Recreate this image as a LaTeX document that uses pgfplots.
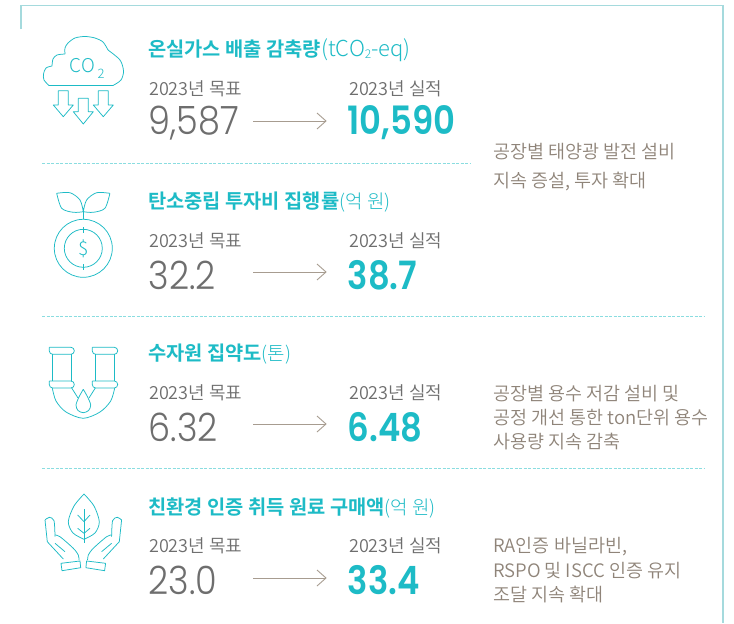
\documentclass[border=0pt]{standalone}
\usepackage{fontspec}
\setmainfont{Noto Sans CJK KR}
\newfontfamily\krlight{Noto Sans CJK KR Light}
\newfontfamily\krdemi{Noto Sans CJK KR DemiLight}
\newfontfamily\krbold{Noto Sans CJK KR Bold}
\newfontfamily\numfont{Poppins Light}
\newfontfamily\numbold{Poppins SemiBold}
\usepackage{pgfplots}
\pgfplotsset{compat=1.18}
\definecolor{tealc}{HTML}{1DBBC6}
\definecolor{framec}{HTML}{A5DADD}
\definecolor{dashc}{HTML}{8ADDE0}
\definecolor{taupe}{HTML}{8F8479}
\definecolor{numgray}{HTML}{6E6E6E}
\definecolor{arrowc}{HTML}{A79C90}
\pgfplotsset{
  icon/.style={tealc,line width=0.75pt,line join=round},
  sep/.style={dashc,line width=1pt,dash pattern=on 3pt off 1.5pt},
  arr/.style={arrowc,line width=0.9pt},
}
\newcommand{\row}[5]{% y, title bold, title light, target, actual
  \node[anchor=west,inner sep=0pt,text=tealc,font=\fontsize{19.8}{21}\krbold] at (axis cs:148,#1+1.5) {#2{\fontsize{19}{21}\krlight #3}};
  \node[anchor=west,inner sep=0pt,text=numgray,font=\fontsize{18}{20}\krdemi] at (axis cs:149,#1+40) {2023년 목표};
  \node[anchor=west,inner sep=0pt,text=numgray,font=\fontsize{18}{20}\krdemi] at (axis cs:349,#1+40) {2023년 실적};
  \node[anchor=west,inner sep=0pt,xscale=0.9,text=numgray,font=\fontsize{39}{41}\numfont] at (axis cs:148.5,#1+74) {#4};
  \node[anchor=west,inner sep=0pt,xscale=0.87,text=tealc,font=\fontsize{39}{41}\numbold] at (axis cs:347.5,#1+74) {#5};
}
\newcommand{\note}[2]{\node[anchor=west,inner sep=0pt,text=taupe,font=\fontsize{18.5}{20}\krdemi] at (axis cs:493,#1+1.5) {#2};}
\begin{document}
\begin{tikzpicture}
\begin{axis}[
    scale only axis, width=734pt, height=623pt,
    xmin=0, xmax=734, ymin=0, ymax=623, y dir=reverse,
    axis lines=none, clip=false,
    every axis plot/.append style={mark=none},
]
% page background, keeps the picture at its full size
\addplot[fill=white,draw=none] coordinates {(0,0) (734,0) (734,623) (0,623)} \closedcycle;
% frame
\addplot[framec,line width=1.2pt] coordinates {(21,29) (21,5.5) (723,5.5) (723,623)};
% separators
\addplot[sep] coordinates {(42,163) (471,163)};
\addplot[sep] coordinates {(42,316) (705,316)};
\addplot[sep] coordinates {(42,468) (705,468)};
% arrows
\addplot[arr] coordinates {(253,121) (326,121)};
\addplot[arr] coordinates {(317,113) (326,121) (317,129)};
\addplot[arr] coordinates {(253,272) (326,272)};
\addplot[arr] coordinates {(317,264) (326,272) (317,280)};
\addplot[arr] coordinates {(253,424) (326,424)};
\addplot[arr] coordinates {(317,416) (326,424) (317,432)};
\addplot[arr] coordinates {(253,578) (326,578)};
\addplot[arr] coordinates {(317,570) (326,578) (317,586)};
% cloud icon
\addplot[icon] coordinates {(49,85.5) (113,85.5)};
\addplot[icon,smooth] coordinates {(113,85.5) (121,80) (123.5,71) (120,60) (108,50)};
\addplot[icon,smooth] coordinates {(108,50) (103,42) (95,38) (85,36.5) (75,38) (68,43) (65,48) (65,54)};
\addplot[icon,smooth] coordinates {(65,54) (57,55) (53,59) (52,66)};
\addplot[icon,smooth] coordinates {(52,66) (46,68) (43.5,74) (44,80) (49,85.5)};
\node[text=tealc,font=\fontsize{19}{19}\krlight] at (axis cs:82.5,66) {CO};
\node[text=tealc,font=\fontsize{13}{13}\krlight] at (axis cs:101,73.5) {2};
\addplot[icon] coordinates {(58.3,90.7) (68.3,90.7) (68.3,105) (73.3,105) (63.3,116.7) (53.3,105) (58.3,105) (58.3,90.7)};
\addplot[icon] coordinates {(78.3,98.3) (88.3,98.3) (88.3,111.7) (93.3,111.7) (83.3,124) (73.3,111.7) (78.3,111.7) (78.3,98.3)};
\addplot[icon] coordinates {(98.3,90.7) (108.3,90.7) (108.3,105) (113.3,105) (103.3,116.7) (93.3,105) (98.3,105) (98.3,90.7)};
% seedling and coin icon
\addplot[icon,only marks,mark=o,mark size=29pt] coordinates {(83.3,248.3)};
\addplot[icon,only marks,mark=o,mark size=19pt] coordinates {(83.3,248.3)};
\addplot[icon] coordinates {(83.3,208.3) (83.3,219.3)};
\addplot[icon,smooth] coordinates {(56.7,193.3) (70,192.7) (80,200) (83.3,211.7)};
\addplot[icon,smooth] coordinates {(56.7,193.3) (61.7,208.3) (73.3,212.3) (83.3,211.7)};
\addplot[icon,smooth] coordinates {(109.9,193.3) (96.6,192.7) (86.6,200) (83.3,211.7)};
\addplot[icon,smooth] coordinates {(109.9,193.3) (104.9,208.3) (93.3,212.3) (83.3,211.7)};
\addplot[icon] coordinates {(83.3,227) (83.3,233)};
\addplot[icon] coordinates {(83.3,264) (83.3,270)};
\node[text=tealc,font=\fontsize{19}{19}\krlight] at (axis cs:83.3,248.3) {\$};
% pipe icon
\addplot[icon,rounded corners=3.4pt] coordinates {(49.3,347.3) (74.3,347.3) (74.3,354.3) (49.3,354.3) (49.3,347.3)};
\addplot[icon,rounded corners=3.4pt] coordinates {(49.3,381) (74.3,381) (74.3,388) (49.3,388) (49.3,381)};
\addplot[icon,rounded corners=3.4pt] coordinates {(92.3,347.3) (117.7,347.3) (117.7,354.3) (92.3,354.3) (92.3,347.3)};
\addplot[icon,rounded corners=3.4pt] coordinates {(92.3,381) (117.7,381) (117.7,388) (92.3,388) (92.3,381)};
\addplot[icon] coordinates {(52.3,354.3) (52.3,381)};
\addplot[icon] coordinates {(71.7,354.3) (71.7,381)};
\addplot[icon] coordinates {(95.3,354.3) (95.3,381)};
\addplot[icon] coordinates {(114.7,354.3) (114.7,381)};
\addplot[icon,smooth] coordinates {(52.3,388) (56,401) (66,412) (83.3,418.3) (100,412) (110.7,401) (114.7,388)};
\addplot[icon] coordinates {(71.7,388) (78,398)};
\addplot[icon] coordinates {(95.3,388) (89,398)};
\addplot[icon,smooth] coordinates {(83.3,389.3) (79,397) (76,405) (78,410.5) (83.3,412.7) (88.6,410.5) (90.7,405) (87.6,397) (83.3,389.3)};
% hands and leaf icon
\addplot[icon,smooth] coordinates {(84,494) (74,506) (68.3,521.7) (73,533) (84,539.3)};
\addplot[icon,smooth] coordinates {(84,494) (94,506) (99.3,521.7) (95,533) (84,539.3)};
\addplot[icon] coordinates {(84,509.3) (84,543.3)};
\addplot[icon] coordinates {(77.7,515) (84,521.7) (90,515)};
\addplot[icon] coordinates {(77.7,528.3) (84,533.3) (90,528.3)};
\addplot[icon,smooth] coordinates {(45,520) (49.3,517.3) (54,520.7) (55,536.7)};
\addplot[icon,smooth] coordinates {(55,535) (60,536.7) (73.3,548.3) (78.3,555) (79,560)};
\addplot[icon] coordinates {(45,520) (47.3,541.7) (63.3,559)};
\addplot[icon] coordinates {(55,543.3) (65,551.7)};
\addplot[icon] coordinates {(61,563.3) (80,561) (80.7,567.7) (62,570.7) (61,563.3)};
\addplot[icon,smooth] coordinates {(121.6,520) (117.3,517.3) (112.6,520.7) (111.6,536.7)};
\addplot[icon,smooth] coordinates {(111.6,535) (106.6,536.7) (93.3,548.3) (88.3,555) (87.6,560)};
\addplot[icon] coordinates {(121.6,520) (119.3,541.7) (103.3,559)};
\addplot[icon] coordinates {(111.6,543.3) (101.6,551.7)};
\addplot[icon] coordinates {(105.6,563.3) (86.6,561) (85.9,567.7) (104.6,570.7) (105.6,563.3)};
% rows
\row{49}{온실가스 배출 감축량}{\fontsize{22}{22}\selectfont(tCO\raisebox{-2pt}{\fontsize{12}{12}\selectfont 2}-eq)}{9,587}{10,590}
\row{201}{탄소중립 투자비 집행률}{(억 원)}{32.2}{38.7}
\row{353}{수자원 집약도}{(톤)}{6.32}{6.48}
\row{506}{친환경 인증 취득 원료 구매액}{(억 원)}{23.0}{33.4}
% notes
\note{150}{공장별 태양광 발전 설비}
\note{180}{지속 증설, 투자 확대}
\note{392}{공장별 용수 저감 설비 및}
\note{416}{공정 개선 통한 ton단위 용수}
\note{440}{사용량 지속 감축}
\note{545}{RA인증 바닐라빈,}
\note{569}{RSPO 및 ISCC 인증 유지}
\note{593}{조달 지속 확대}
\end{axis}
\end{tikzpicture}
\end{document}
